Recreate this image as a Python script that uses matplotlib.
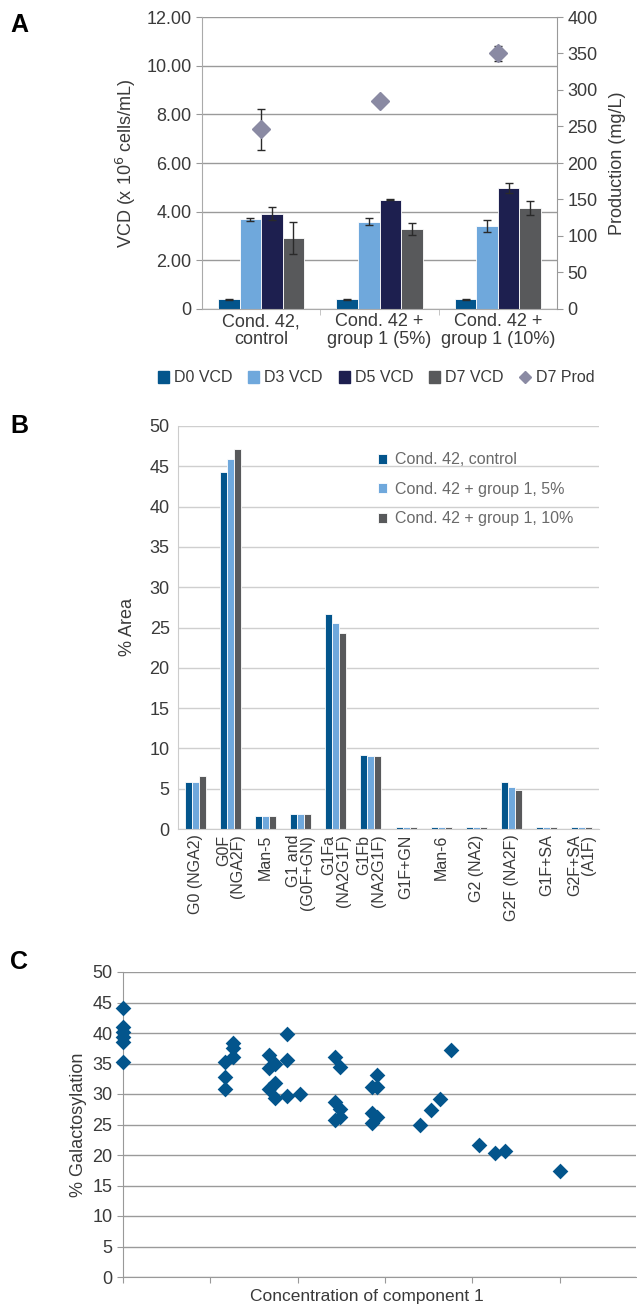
import matplotlib
matplotlib.use("Agg")
import matplotlib.pyplot as plt
from matplotlib.ticker import FuncFormatter, MultipleLocator
from matplotlib.lines import Line2D
from matplotlib.patches import Patch
import numpy as np

plt.rcParams['font.family'] = ['Liberation Sans', 'DejaVu Sans']
TXT = '#3a3a3a'

# ---------------- Panel A data ----------------
groups_a = ["Cond. 42,\ncontrol", "Cond. 42 +\ngroup 1 (5%)", "Cond. 42 +\ngroup 1 (10%)"]
vcd_series = ["D0 VCD", "D3 VCD", "D5 VCD", "D7 VCD"]
d0_vcd = [0.40, 0.40, 0.40]
d3_vcd = [3.68, 3.58, 3.42]
d5_vcd = [3.92, 4.48, 4.98]
d7_vcd = [2.92, 3.28, 4.15]
d0_err = [0.03, 0.03, 0.03]
d3_err = [0.08, 0.14, 0.25]
d5_err = [0.28, 0.02, 0.20]
d7_err = [0.65, 0.25, 0.28]
d7_prod = [246, 285, 350]
d7_prod_err = [28, 2, 10]

# ---------------- Panel B data ----------------
glycans = ["G0 (NGA2)", "G0F\n(NGA2F)", "Man-5", "G1 and\n(G0F+GN)", "G1Fa\n(NA2G1F)",
           "G1Fb\n(NA2G1F)", "G1F+GN", "Man-6", "G2 (NA2)", "G2F (NA2F)", "G1F+SA",
           "G2F+SA\n(A1F)"]
b_series = ["Cond. 42, control", "Cond. 42 + group 1, 5%", "Cond. 42 + group 1, 10%"]
area_control = [5.8, 44.3, 1.6, 1.8, 26.7, 9.2, 0.2, 0.2, 0.2, 5.8, 0.2, 0.2]
area_5pct = [5.8, 45.9, 1.6, 1.8, 25.5, 9.0, 0.2, 0.2, 0.2, 5.2, 0.2, 0.2]
area_10pct = [6.6, 47.1, 1.6, 1.8, 24.3, 9.0, 0.2, 0.2, 0.2, 4.8, 0.2, 0.2]

# ---------------- Panel C data ----------------
conc = [0, 0, 0, 0, 0, 0,
        1.17, 1.17, 1.17, 1.26, 1.26, 1.26,
        1.67, 1.67, 1.67, 1.74, 1.74, 1.74, 1.88, 1.88, 1.88, 2.03,
        2.43, 2.43, 2.43, 2.49, 2.49, 2.49,
        2.85, 2.85, 2.85, 2.91, 2.91, 2.91,
        3.40, 3.52, 3.63, 3.75, 4.08, 4.26, 4.37, 5.00]
galacto = [44.1, 41.0, 40.2, 39.3, 38.6, 35.2,
           35.3, 32.8, 30.9, 38.3, 37.5, 36.1,
           36.4, 34.2, 30.9, 35.0, 31.8, 29.3, 39.9, 35.6, 29.6, 30.0,
           36.1, 28.7, 25.7, 34.5, 27.6, 26.3,
           31.2, 26.9, 25.2, 33.1, 31.2, 26.2,
           25.0, 27.3, 29.1, 37.2, 21.7, 20.3, 20.6, 17.3]

C_D0 = '#03558c'
C_D3 = '#6fa8dc'
C_D5 = '#1d1f4f'
C_D7 = '#58595b'
C_PROD = '#8a8aa3'

W, H = 637, 1305
fig = plt.figure(figsize=(W / 100, H / 100), dpi=100)

def ax_rect(l, r, t, b):
    return [l / W, 1 - b / H, (r - l) / W, (b - t) / H]

# ================= Panel A =================
axA = fig.add_axes(ax_rect(202, 557, 17, 309))
x = np.arange(len(groups_a))
bw = 0.182
vals = [d0_vcd, d3_vcd, d5_vcd, d7_vcd]
errs = [d0_err, d3_err, d5_err, d7_err]
cols = [C_D0, C_D3, C_D5, C_D7]
for i, (v, e, c) in enumerate(zip(vals, errs, cols)):
    axA.bar(x + (i - 1.5) * bw, v, bw, color=c, edgecolor='white', linewidth=0.6, zorder=2,
            yerr=e, error_kw=dict(ecolor='#2a2a2a', elinewidth=1, capsize=3, capthick=1, zorder=3))
axA.set_ylim(0, 12)
axA.set_xlim(-0.5, 2.5)
axA.yaxis.set_major_locator(MultipleLocator(2))
axA.yaxis.set_major_formatter(FuncFormatter(lambda v, p: "0" if v == 0 else f"{v:.2f}"))
axA.grid(axis='y', color='#9a9a9a', linewidth=1, zorder=0)
axA.set_axisbelow(True)
axA.set_xticks(x)
axA.set_xticklabels(groups_a, fontsize=13, color=TXT, linespacing=1.05)
axA.set_xticks([0.5, 1.5], minor=True)
axA.tick_params(axis='x', which='major', length=0, pad=3)
axA.tick_params(axis='x', which='minor', length=4, color='#bbbbbb')
axA.tick_params(axis='y', labelsize=13, colors=TXT, length=4, color='#999999')
for s in ['top', 'right']:
    axA.spines[s].set_visible(False)
for s in ['left', 'bottom']:
    axA.spines[s].set_color('#aaaaaa')
axA.set_ylabel("VCD (x 10$^{6}$ cells/mL)", fontsize=13, color=TXT, labelpad=6)

axA2 = axA.twinx()
axA2.set_ylim(0, 400)
axA2.yaxis.set_major_locator(MultipleLocator(50))
axA2.errorbar(x, d7_prod, yerr=d7_prod_err, fmt='D', color=C_PROD, markersize=9,
              ecolor='#2a2a2a', elinewidth=1, capsize=3, capthick=1, zorder=4)
for s in ['top', 'left', 'bottom']:
    axA2.spines[s].set_visible(False)
axA2.spines['right'].set_color('#999999')
axA2.tick_params(axis='y', labelsize=13, colors=TXT, length=4, color='#999999')
axA2.set_ylabel("Production (mg/L)", fontsize=13, color=TXT, labelpad=8)

handles = [Patch(color=c) for c in cols] + [Line2D([], [], marker='D', color=C_PROD, linestyle='none', markersize=6)]
fig.legend(handles, vcd_series + ["D7 Prod"], loc='center', bbox_to_anchor=(376 / W, 1 - 378 / H),
           ncol=5, frameon=False, fontsize=11.5, handlelength=0.7, handleheight=0.7,
           handletextpad=0.3, columnspacing=1.0, labelcolor=TXT)

# ================= Panel B =================
axB = fig.add_axes(ax_rect(178, 599, 426, 829))
xb = np.arange(len(glycans))
bwb = 0.2
for i, (v, c) in enumerate(zip([area_control, area_5pct, area_10pct], [C_D0, C_D3, C_D7])):
    axB.bar(xb + (i - 1) * bwb, v, bwb, color=c, edgecolor='white', linewidth=0.6,
            label=b_series[i], zorder=2)
axB.set_ylim(0, 50)
axB.set_xlim(-0.5, len(glycans) - 0.5)
axB.yaxis.set_major_locator(MultipleLocator(5))
axB.grid(axis='y', color='#cfcfcf', linewidth=1, zorder=0)
axB.set_axisbelow(True)
axB.set_xticks(xb)
axB.set_xticklabels(glycans, rotation=90, fontsize=11.5, color=TXT, ha='center', va='top',
                    multialignment='right', linespacing=0.95)
axB.tick_params(axis='x', length=0, pad=4)
axB.tick_params(axis='y', labelsize=13, colors=TXT, length=0, pad=6)
for s in ['top', 'right']:
    axB.spines[s].set_visible(False)
for s in ['left', 'bottom']:
    axB.spines[s].set_color('#cccccc')
axB.set_ylabel("% Area", fontsize=13, color=TXT, labelpad=10)
axB.legend(loc='upper left', bbox_to_anchor=(0.44, 0.97), frameon=False, fontsize=11.5,
           handlelength=0.6, handleheight=0.6, handletextpad=0.5, labelspacing=0.9,
           labelcolor='#6a6a6a')

# ================= Panel C =================
axC = fig.add_axes(ax_rect(122.7, 636, 972, 1277))
axC.scatter(conc, galacto, marker='D', s=64, color=C_D0, linewidths=0, zorder=3, clip_on=False)
axC.set_ylim(0, 50)
axC.set_xlim(0, 5.87)
axC.yaxis.set_major_locator(MultipleLocator(5))
axC.set_xticks([0, 1, 2, 3, 4, 5])
axC.set_xticklabels([])
axC.grid(axis='y', color='#9a9a9a', linewidth=1, zorder=0)
axC.set_axisbelow(True)
axC.tick_params(axis='y', labelsize=13, colors=TXT, length=4, color='#999999')
axC.tick_params(axis='x', length=4, color='#999999')
for s in ['top', 'right']:
    axC.spines[s].set_visible(False)
for s in ['left', 'bottom']:
    axC.spines[s].set_color('#999999')
axC.set_ylabel("% Galactosylation", fontsize=13, color=TXT, labelpad=4)
fig.text(367 / W, 1 - 1297 / H, "Concentration of component 1", ha='center', va='center',
         fontsize=12.5, color=TXT)

# Panel letters
fig.text(10 / W, 1 - 25 / H, "A", fontsize=18, fontweight='bold', va='center', ha='left')
fig.text(10 / W, 1 - 426 / H, "B", fontsize=18, fontweight='bold', va='center', ha='left')
fig.text(10 / W, 1 - 962 / H, "C", fontsize=18, fontweight='bold', va='center', ha='left')

fig.savefig("out.png", dpi=100)
